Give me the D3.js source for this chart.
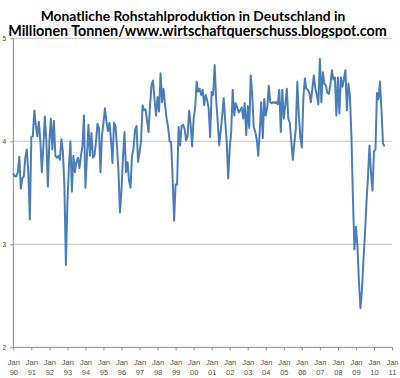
<!DOCTYPE html>
<html><head><meta charset="utf-8">
<script src="https://cdn.jsdelivr.net/npm/d3@7/dist/d3.min.js"></script>
<style>html,body{margin:0;padding:0;background:#fff}svg{display:block}</style>
</head><body>
<svg id="chart" width="400" height="378"></svg>
<script>
const titleLines = [
  "Monatliche Rohstahlproduktion in Deutschland in",
  "Millionen Tonnen/www.wirtschaftquerschuss.blogspot.com"
];
const startYear = 1990;
const yearLabels = ["90","91","92","93","94","95","96","97","98","99","00","01","02","03","04","05","06","07","08","09","10","11"];
const yTickValues = [2, 3, 4, 5];
// Monthly crude steel production, million tonnes, Jan 1990 – Aug 2010
const production = [
  3.69,3.66,3.66,3.70,3.85,3.54,3.64,3.66,3.84,3.92,3.70,3.24, // 1990
  4.04,4.05,4.30,4.15,4.05,4.19,4.00,3.70,3.95,4.24,4.00,3.56, // 1991
  4.00,4.22,3.92,4.20,3.86,3.84,3.86,3.82,4.02,3.90,3.57,2.80, // 1992
  3.40,3.75,4.00,3.51,3.86,3.70,3.80,3.84,3.74,3.86,3.95,4.25, // 1993
  3.55,3.86,4.16,3.86,4.08,3.84,3.86,3.99,4.17,4.13,3.70,4.06, // 1994
  4.18,4.32,4.19,4.10,4.18,4.02,3.79,4.18,4.15,3.95,3.70,3.31, // 1995
  3.53,3.85,4.09,3.70,3.80,3.62,3.55,3.86,3.93,4.11,4.15,3.80, // 1996
  3.89,4.00,4.35,4.30,4.31,4.20,4.09,4.35,4.55,4.59,4.40,4.25, // 1997
  4.43,4.29,4.66,4.38,4.51,4.35,4.22,4.14,4.00,3.99,3.65,3.23, // 1998
  3.58,3.58,4.14,3.96,4.15,4.16,4.12,4.01,4.05,4.30,4.16,3.95, // 1999
  4.22,4.32,4.58,4.48,4.51,4.45,4.50,4.35,4.45,4.40,4.32,4.04, // 2000
  4.48,4.45,4.74,4.40,4.20,3.96,4.10,4.25,4.42,4.20,4.00,3.64, // 2001
  3.93,4.09,4.50,4.25,4.37,4.33,4.28,4.30,4.33,4.22,4.37,4.06, // 2002
  4.34,4.13,4.64,4.45,4.14,4.09,4.02,3.86,4.10,4.38,4.03,4.41, // 2003
  4.25,4.33,4.54,4.38,4.37,4.38,4.37,4.38,4.36,4.50,4.09,4.50, // 2004
  4.22,4.35,4.51,4.22,4.18,4.00,3.82,3.98,4.12,4.58,4.25,4.04, // 2005
  3.94,4.41,4.61,4.51,4.50,4.47,4.38,4.51,4.64,4.51,4.45,4.36, // 2006
  4.80,4.38,4.67,4.56,4.54,4.47,4.46,4.55,4.69,4.60,4.62,4.25, // 2007
  4.62,4.27,4.62,4.53,4.60,4.69,4.30,4.56,4.44,4.05,3.45,2.95, // 2008
  3.17,2.98,2.64,2.38,2.55,2.85,3.10,3.40,3.65,3.96,3.70,3.52, // 2009
  3.90,3.92,4.47,4.41,4.58,4.30,3.98,3.95                      // 2010
];

const svg = d3.select("#chart");
const plotLeft = 13.3, plotRight = 392, plotTop = 38.3, plotBottom = 347.3;
const nMonths = (yearLabels.length - 1) * 12;

const x = d3.scaleLinear().domain([0, nMonths]).range([plotLeft, plotRight]);
const y = d3.scaleLinear().domain([2, 5]).range([plotBottom, plotTop]);

// Title
const titleY = [20.5, 36];
const titleW = [305, 379];
const titleCx = [193, 197.5];
titleLines.forEach((t, i) => {
  const el = svg.append("text")
    .attr("x", titleCx[i]).attr("y", titleY[i])
    .attr("text-anchor", "middle")
    .attr("font-family", "Lato, 'Open Sans', sans-serif")
    .attr("font-weight", "bold")
    .attr("font-size", 14)
    .attr("fill", "#000")
    .text(t);
  const w = el.node().getComputedTextLength();
  el.attr("font-size", 14 * titleW[i] / w);
});

// Gridlines
svg.append("g").selectAll("line")
  .data(yTickValues.filter(v => v > 2))
  .join("line")
  .attr("x1", plotLeft).attr("x2", plotRight)
  .attr("y1", d => y(d)).attr("y2", d => y(d))
  .attr("stroke", "#d0d0d0").attr("stroke-width", 1.3);

// Y axis
const yAxis = d3.axisLeft(y).tickValues(yTickValues).tickSize(3).tickFormat(d3.format("d"));
const gy = svg.append("g").attr("transform", `translate(${plotLeft},0)`).call(yAxis);
gy.select(".domain").attr("stroke", "#8a8a8a").attr("d", `M0,${plotBottom}V${plotTop}`);
gy.selectAll(".tick line").attr("stroke", "#8a8a8a");
gy.selectAll(".tick text")
  .attr("x", -9).attr("text-anchor", "middle").attr("dy", "0.35em")
  .attr("font-family", "'Liberation Sans', Arial, sans-serif")
  .attr("font-size", 6.5).attr("fill", "#404040");

// X axis
const tickIdx = d3.range(0, nMonths + 1, 12);
const xAxis = d3.axisBottom(x).tickValues(tickIdx).tickSize(3).tickFormat(() => "");
const gx = svg.append("g").attr("transform", `translate(0,${plotBottom})`).call(xAxis);
gx.select(".domain").attr("stroke", "#8a8a8a").attr("d", `M${plotLeft},0H${plotRight}`);
gx.selectAll(".tick line").attr("stroke", "#8a8a8a");
gx.selectAll(".tick").each(function(d, i) {
  const g = d3.select(this);
  g.append("text").attr("y", 18).attr("text-anchor", "middle")
    .attr("font-family", "'Liberation Sans', Arial, sans-serif")
    .attr("font-size", 7.5).attr("fill", "#505050").text("Jan");
  g.append("text").attr("y", 28).attr("text-anchor", "middle")
    .attr("font-family", "'Liberation Sans', Arial, sans-serif")
    .attr("font-size", 7.5).attr("fill", "#505050").text(yearLabels[i]);
});

// Line
const line = d3.line().x((d, i) => x(i)).y(d => y(d));
svg.append("path").datum(production)
  .attr("d", line)
  .attr("fill", "none")
  .attr("stroke", "#4a7ebb")
  .attr("stroke-width", 2)
  .attr("stroke-linejoin", "round");
</script>
</body></html>
